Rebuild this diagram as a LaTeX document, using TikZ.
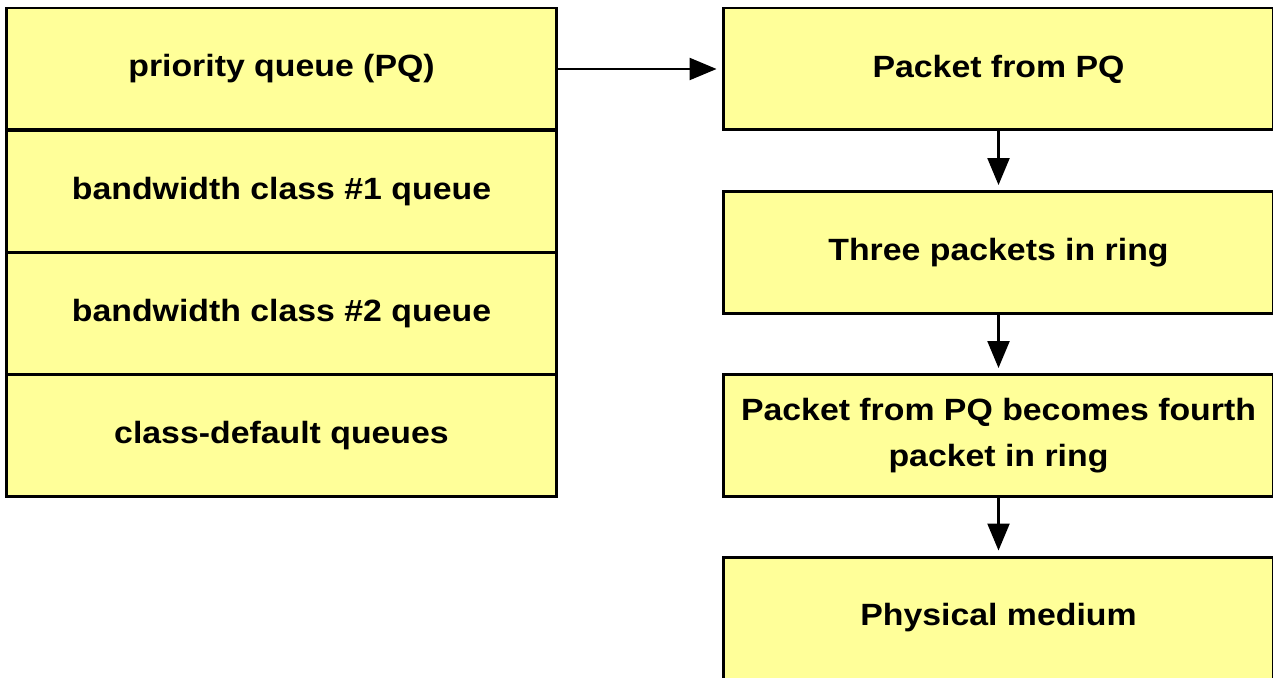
\documentclass[tikz,border=0pt]{standalone}
\usepackage{fontspec}
\setmainfont{Liberation Sans}
\newfontfamily\widebold[FakeStretch=1.1]{Liberation Sans}
\usepackage{tikz}
\usetikzlibrary{arrows.meta}
\definecolor{boxyellow}{HTML}{FFFF99}
\tikzset{
    queuebox/.style={draw=black, line width=1.7pt, fill=boxyellow, minimum width=11.02cm, minimum height=2.44cm, inner sep=0pt, align=center, font=\widebold\fontsize{17.5}{26.5}\selectfont\bfseries},
    flowarrow/.style={line width=1.3pt, -{Triangle[length=0.54cm, width=0.44cm]}, shorten >=0.1cm}
}

\begin{document}
\begin{tikzpicture}[x=0.02cm, y=-0.02cm]
        \useasboundingbox (0,0) rectangle (1273,678);

        \node[queuebox] (PriorityQueue) at (281.5, 69) {priority queue (PQ)};
        \node[queuebox] (BandwidthClassOne) at (281.5, 191.5) {bandwidth class \#1 queue};
        \node[queuebox] (BandwidthClassTwo) at (281.5, 313.5) {bandwidth class \#2 queue};
        \node[queuebox] (ClassDefault) at (281.5, 435.5) {class-default queues};

        \node[queuebox] (PacketFromPQ) at (998.5, 69) {Packet from PQ};
        \node[queuebox] (ThreePackets) at (998.5, 252.5) {Three packets in ring};
        \node[queuebox] (FourthPacket) at (998.5, 435.5) {Packet from PQ becomes fourth\\packet in ring};
        \node[queuebox] (PhysicalMedium) at (998.5, 618) {Physical medium};

        \draw[flowarrow] (PriorityQueue) -- (PacketFromPQ);
        \draw[flowarrow] (PacketFromPQ) -- (ThreePackets);
        \draw[flowarrow] (ThreePackets) -- (FourthPacket);
        \draw[flowarrow] (FourthPacket) -- (PhysicalMedium);
    \end{tikzpicture}
\end{document}
